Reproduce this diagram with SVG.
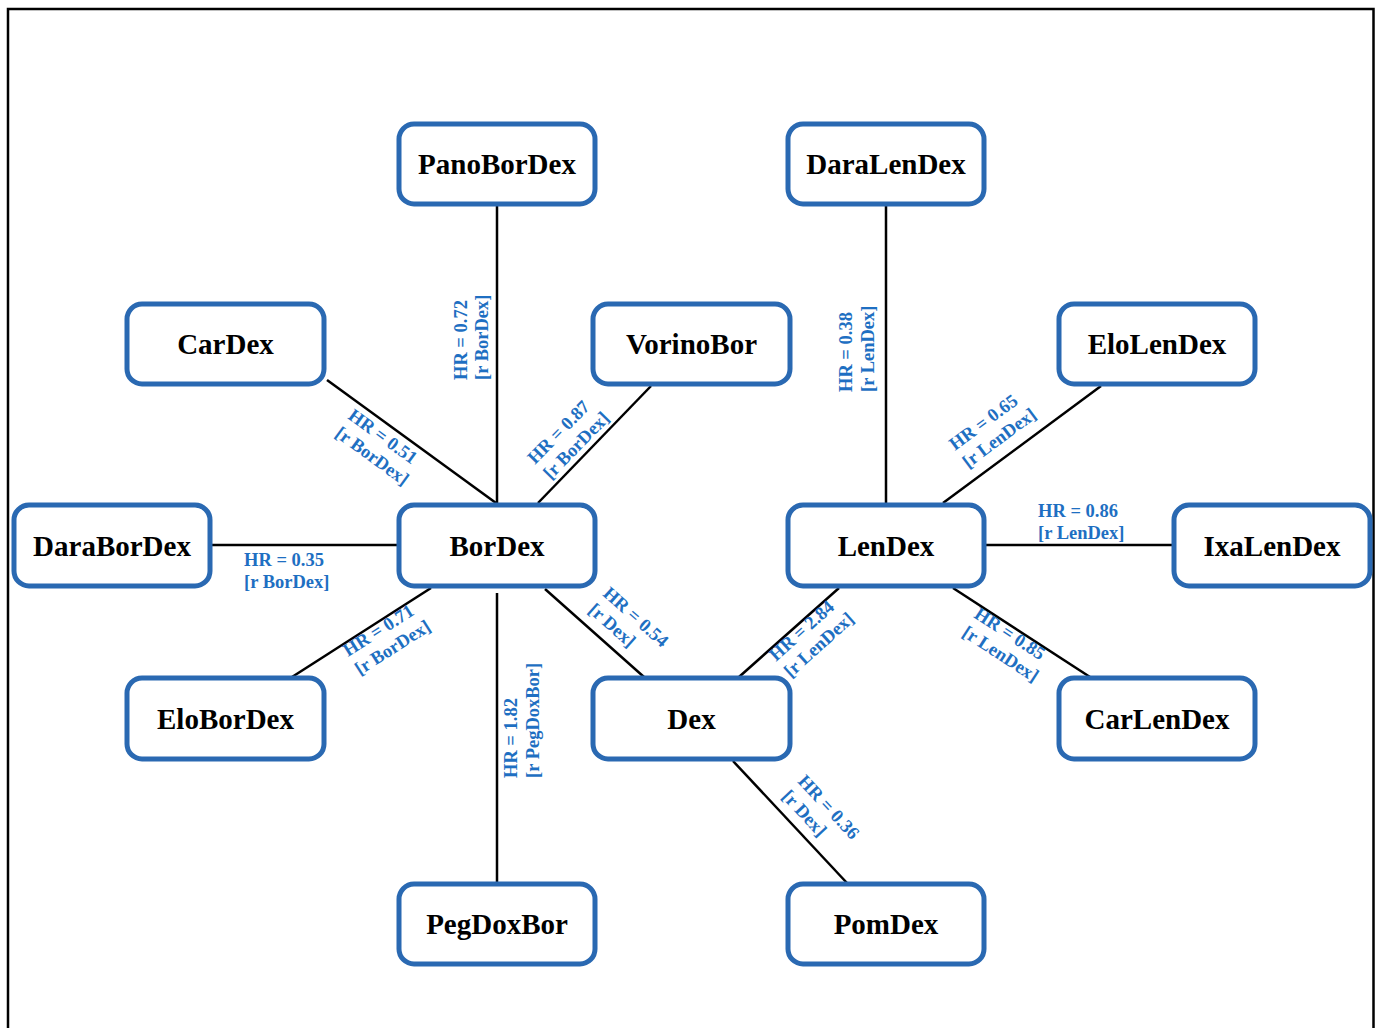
<svg xmlns="http://www.w3.org/2000/svg" width="1380" height="1028" viewBox="0 0 1380 1028">
<style>
.box{fill:#fff;stroke:#2a69b2;stroke-width:5}
.nt{font-family:"Liberation Serif","Times New Roman",serif;font-weight:bold;font-size:29px;fill:#000;text-anchor:middle}
.ln{stroke:#000;stroke-width:2.5;fill:none}
.lb{font-family:"Liberation Serif","Times New Roman",serif;font-weight:bold;font-size:18.5px;fill:#1e6fc2}
</style>
<rect x="0" y="0" width="1380" height="1028" fill="#fff"/>
<path d="M8,1030 V9 H1373.5 V1030" fill="none" stroke="#000" stroke-width="2.5"/>
<g id="connectors">
<line class="ln" x1="497" y1="205" x2="497" y2="505"/>
<line class="ln" x1="327" y1="380" x2="496" y2="503"/>
<line class="ln" x1="651" y1="386" x2="538" y2="503"/>
<line class="ln" x1="211" y1="545" x2="399" y2="545"/>
<line class="ln" x1="292" y1="677" x2="431" y2="588"/>
<line class="ln" x1="497" y1="593" x2="497" y2="884"/>
<line class="ln" x1="545" y1="589" x2="644" y2="677"/>
<line class="ln" x1="886" y1="205" x2="886" y2="505"/>
<line class="ln" x1="1101" y1="386" x2="943" y2="503"/>
<line class="ln" x1="984" y1="545" x2="1173" y2="545"/>
<line class="ln" x1="953" y1="588" x2="1090" y2="677"/>
<line class="ln" x1="839" y1="588" x2="739" y2="677"/>
<line class="ln" x1="733" y1="761" x2="847" y2="883"/>
<text class="lb" transform="translate(467,380) rotate(-90)"><tspan x="0" y="0">HR = 0.72</tspan><tspan x="0" y="21">[r BorDex]</tspan></text>
<text class="lb" transform="translate(347,418) rotate(36)"><tspan x="0" y="0">HR = 0.51</tspan><tspan x="0" y="22">[r BorDex]</tspan></text>
<text class="lb" transform="translate(535,465) rotate(-45.7)"><tspan x="0" y="0">HR = 0.87</tspan><tspan x="0" y="22">[r BorDex]</tspan></text>
<text class="lb" transform="translate(244,566)"><tspan x="0" y="0">HR = 0.35</tspan><tspan x="0" y="22">[r BorDex]</tspan></text>
<text class="lb" transform="translate(348,657) rotate(-32.5)"><tspan x="0" y="0">HR = 0.71</tspan><tspan x="0" y="22">[r BorDex]</tspan></text>
<text class="lb" transform="translate(517,778) rotate(-90)"><tspan x="0" y="0">HR = 1.82</tspan><tspan x="0" y="22">[r PegDoxBor]</tspan></text>
<text class="lb" transform="translate(602,595) rotate(41.7)"><tspan x="0" y="0">HR = 0.54</tspan><tspan x="0" y="22">[r Dex]</tspan></text>
<text class="lb" transform="translate(852,392) rotate(-90)"><tspan x="0" y="0">HR = 0.38</tspan><tspan x="0" y="22">[r LenDex]</tspan></text>
<text class="lb" transform="translate(955,451) rotate(-36.7)"><tspan x="0" y="0">HR = 0.65</tspan><tspan x="0" y="22">[r LenDex]</tspan></text>
<text class="lb" transform="translate(1038,517)"><tspan x="0" y="0">HR = 0.86</tspan><tspan x="0" y="22">[r LenDex]</tspan></text>
<text class="lb" transform="translate(776,662) rotate(-42)"><tspan x="0" y="0">HR = 2.84</tspan><tspan x="0" y="22">[r LenDex]</tspan></text>
<text class="lb" transform="translate(973,617) rotate(33)"><tspan x="0" y="0">HR = 0.85</tspan><tspan x="0" y="22">[r LenDex]</tspan></text>
<text class="lb" transform="translate(797,782) rotate(47)"><tspan x="0" y="0">HR = 0.36</tspan><tspan x="0" y="22">[r Dex]</tspan></text>
</g>
<g id="PanoBorDex"><rect class="box" x="399" y="124" width="196" height="80" rx="15"/><text class="nt" x="497" y="174">PanoBorDex</text></g>
<g id="DaraLenDex"><rect class="box" x="788" y="124" width="196" height="80" rx="15"/><text class="nt" x="886" y="174">DaraLenDex</text></g>
<g id="CarDex"><rect class="box" x="127" y="304" width="197" height="80" rx="15"/><text class="nt" x="225.5" y="354">CarDex</text></g>
<g id="VorinoBor"><rect class="box" x="593" y="304" width="197" height="80" rx="15"/><text class="nt" x="691.5" y="354">VorinoBor</text></g>
<g id="EloLenDex"><rect class="box" x="1059" y="304" width="196" height="80" rx="15"/><text class="nt" x="1157" y="354">EloLenDex</text></g>
<g id="DaraBorDex"><rect class="box" x="14" y="505" width="196" height="81" rx="15"/><text class="nt" x="112" y="556">DaraBorDex</text></g>
<g id="BorDex"><rect class="box" x="399" y="505" width="196" height="81" rx="15"/><text class="nt" x="497" y="556">BorDex</text></g>
<g id="LenDex"><rect class="box" x="788" y="505" width="196" height="81" rx="15"/><text class="nt" x="886" y="556">LenDex</text></g>
<g id="IxaLenDex"><rect class="box" x="1174" y="505" width="196" height="81" rx="15"/><text class="nt" x="1272" y="556">IxaLenDex</text></g>
<g id="EloBorDex"><rect class="box" x="127" y="678" width="197" height="81" rx="15"/><text class="nt" x="225.5" y="729">EloBorDex</text></g>
<g id="Dex"><rect class="box" x="593" y="678" width="197" height="81" rx="15"/><text class="nt" x="691.5" y="729">Dex</text></g>
<g id="CarLenDex"><rect class="box" x="1059" y="678" width="196" height="81" rx="15"/><text class="nt" x="1157" y="729">CarLenDex</text></g>
<g id="PegDoxBor"><rect class="box" x="399" y="884" width="196" height="80" rx="15"/><text class="nt" x="497" y="934">PegDoxBor</text></g>
<g id="PomDex"><rect class="box" x="788" y="884" width="196" height="80" rx="15"/><text class="nt" x="886" y="934">PomDex</text></g>
</svg>
